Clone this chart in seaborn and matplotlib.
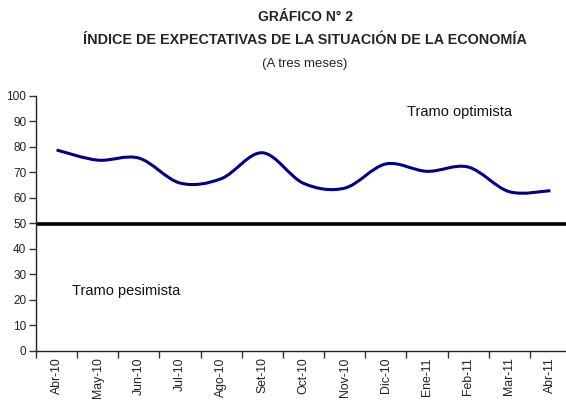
import numpy as np
import pandas as pd
import matplotlib
matplotlib.use("Agg")
import matplotlib.pyplot as plt
from matplotlib.path import Path
from matplotlib.patches import PathPatch
import seaborn as sns

# ---- data ----
meses = ["Abr-10", "May-10", "Jun-10", "Jul-10", "Ago-10", "Set-10", "Oct-10",
         "Nov-10", "Dic-10", "Ene-11", "Feb-11", "Mar-11", "Abr-11"]
indice = [78.8, 74.8, 75.6, 65.8, 67.5, 77.7, 65.7, 63.8, 73.3, 70.4, 72.1, 62.4, 62.8]
umbral = 49.6
y_ticks = [0, 10, 20, 30, 40, 50, 60, 70, 80, 90, 100]

titulo1 = "GRÁFICO N° 2"
titulo2 = "ÍNDICE DE EXPECTATIVAS DE LA SITUACIÓN DE LA ECONOMÍA"
titulo3 = "(A tres meses)"
txt_opt = "Tramo optimista"
txt_pes = "Tramo pesimista"

sns.set_theme(style="white")
plt.rcParams["font.family"] = ["Liberation Sans", "DejaVu Sans"]

df = pd.DataFrame({"mes": meses, "indice": indice})
df["pos"] = np.arange(len(meses))

fig = plt.figure(figsize=(5.66, 4.05), dpi=100)
ax = fig.add_axes([36 / 566, (405 - 350.5) / 405, 535 / 566, 254.5 / 405])

# threshold line
ax.axhline(umbral, color="black", lw=2.6, zorder=2)

# smoothed (Excel-like) line through the data points, Bezier segments
x = df["pos"].to_numpy(dtype=float)
y = df["indice"].to_numpy(dtype=float)
verts = [(x[0], y[0])]
codes = [Path.MOVETO]
n = len(x)
for i in range(n - 1):
    xp, yp = (x[i - 1], y[i - 1]) if i > 0 else (x[i], y[i])
    xn, yn = (x[i + 2], y[i + 2]) if i + 2 < n else (x[i + 1], y[i + 1])
    c1 = (x[i] + (x[i + 1] - xp) / 6, y[i] + (y[i + 1] - yp) / 6)
    c2 = (x[i + 1] - (xn - x[i]) / 6, y[i + 1] - (yn - y[i]) / 6)
    verts += [c1, c2, (x[i + 1], y[i + 1])]
    codes += [Path.CURVE4] * 3
ax.add_patch(PathPatch(Path(verts, codes), fill=False, edgecolor="#000088",
                       lw=2.2, zorder=3, capstyle="butt"))

ax.set_xlim(-0.5, len(meses) - 0.5)
ax.set_ylim(0, 100)
ax.set_yticks(y_ticks)
ax.set_yticklabels([str(v) for v in y_ticks], fontsize=8.5, color="#222222")
ax.set_xticks(np.arange(len(meses)))
ax.set_xticklabels(meses, rotation=90, fontsize=8.8, color="#222222")
ax.set_xticks(np.arange(len(meses) + 1) - 0.5, minor=True)
ax.tick_params(axis="x", which="major", length=0, pad=5)
ax.tick_params(axis="x", which="minor", length=5, width=1, color="#333333", direction="out", bottom=True)
ax.tick_params(axis="y", length=5, width=1, color="#333333", direction="out", left=True, pad=2)
ax.set_xlabel("")
ax.set_ylabel("")
for s in ["top", "right"]:
    ax.spines[s].set_visible(False)
for s in ["left", "bottom"]:
    ax.spines[s].set_color("#222222")
    ax.spines[s].set_linewidth(1.0)
ax.grid(False)

ax.text(0.693, 0.937, txt_opt, transform=ax.transAxes, fontsize=10.5,
        ha="left", va="center", color="#111111")
ax.text(0.067, 0.234, txt_pes, transform=ax.transAxes, fontsize=10.5,
        ha="left", va="center", color="#111111")

fig.text(0.539, 0.958, titulo1, ha="center", va="center", fontsize=10,
         fontweight="bold", family=["Liberation Sans Narrow", "Liberation Sans"])
fig.text(0.539, 0.901, titulo2, ha="center", va="center", fontsize=10.4,
         fontweight="bold", family=["Liberation Sans Narrow", "Liberation Sans"])
fig.text(0.539, 0.842, titulo3, ha="center", va="center", fontsize=9.5)

fig.savefig("out.png", dpi=100)
